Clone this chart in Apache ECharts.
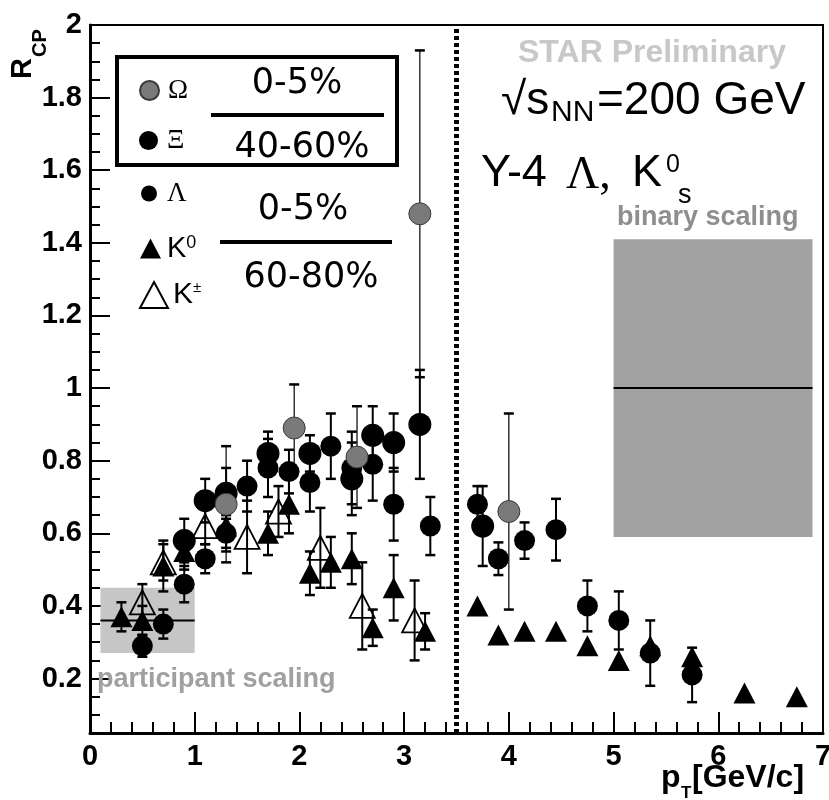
<!DOCTYPE html>
<html>
<head>
<meta charset="utf-8">
<script src="https://cdn.jsdelivr.net/npm/echarts@6/dist/echarts.min.js"></script>
<style>
  html, body { margin: 0; padding: 0; background: #fff; }
  #chart { width: 829px; height: 800px; }
</style>
</head>
<body>
<div id="chart"></div>
<script>
// ---- R_CP data (pT in GeV/c) ----
// Omega, 0-5% / 40-60%
const omegaPt  = [1.3, 1.95, 2.55, 3.15, 4.0];
const omegaR   = [0.68, 0.89, 0.81, 1.48, 0.66];
const omegaErr = [0.16, 0.12, 0.14, 0.45, 0.27];

// Xi, 0-5% / 40-60%
const xiPt  = [0.9, 1.1, 1.3, 1.7, 2.1, 2.5, 2.7, 2.9, 3.15, 3.75];
const xiR   = [0.58, 0.69, 0.71, 0.82, 0.82, 0.75, 0.87, 0.85, 0.90, 0.62];
const xiErr = [0.06, 0.06, 0.07, 0.06, 0.05, 0.10, 0.08, 0.08, 0.15, 0.11];

// Lambda, 0-5% / 60-80%
const lamPt  = [0.5, 0.7, 0.9, 1.1, 1.3, 1.5, 1.7, 1.9, 2.1, 2.3, 2.5, 2.7, 2.9, 3.25];
const lamR   = [0.29, 0.35, 0.46, 0.53, 0.60, 0.73, 0.78, 0.77, 0.74, 0.84, 0.78, 0.79, 0.68, 0.62];
const lamErr = [0.03, 0.04, 0.05, 0.04, 0.05, 0.07, 0.08, 0.06, 0.08, 0.09, 0.10, 0.10, 0.10, 0.08];

// K0, 0-5% / 60-80%
const k0Pt  = [0.3, 0.5, 0.7, 0.9, 1.3, 1.7, 1.9, 2.1, 2.3, 2.5, 2.7, 2.9, 3.2];
const k0R   = [0.37, 0.36, 0.51, 0.55, 0.62, 0.60, 0.68, 0.49, 0.52, 0.53, 0.34, 0.45, 0.33];
const k0Err = [0.04, 0.04, 0.07, 0.05, 0.06, 0.06, 0.08, 0.06, 0.07, 0.07, 0.05, 0.09, 0.05];

// charged K, 0-5% / 60-80%
const kchPt  = [0.5, 0.7, 1.1, 1.5, 1.8, 2.2, 2.6, 3.1];
const kchR   = [0.41, 0.52, 0.62, 0.59, 0.66, 0.56, 0.40, 0.36];
const kchErr = [0.05, 0.05, 0.05, 0.10, 0.07, 0.11, 0.12, 0.11];

// Y-4 run: Lambda and K0s
const y4LamPt  = [3.7, 3.9, 4.15, 4.45, 4.75, 5.05, 5.35, 5.75];
const y4LamR   = [0.68, 0.53, 0.58, 0.61, 0.40, 0.36, 0.27, 0.21];
const y4LamErr = [0.05, 0.045, 0.05, 0.085, 0.07, 0.08, 0.09, 0.075];

const y4K0Pt = [3.7, 3.9, 4.15, 4.45, 4.75, 5.05, 5.35, 5.75, 6.25, 6.75];
const y4K0R  = [0.40, 0.32, 0.33, 0.33, 0.29, 0.25, 0.29, 0.26, 0.16, 0.15];

// scaling expectations: [ptLow, ptHigh, rLow, rHigh, rCentre]
const participantBand = [0.1, 1.0, 0.27, 0.45, 0.36];
const binaryBand      = [5.0, 6.9, 0.59, 1.41, 1.0];

// pT separating the Y-2 and Y-4 data
const dividerPt = 3.5;

// axis ticks
const yMajorTicks = [0.2, 0.4, 0.6, 0.8, 1.0, 1.2, 1.4, 1.6, 1.8, 2.0];
const yMinorTicks = [0.1, 0.15, 0.25, 0.3, 0.35, 0.45, 0.5, 0.55, 0.65, 0.7, 0.75,
  0.85, 0.9, 0.95, 1.05, 1.1, 1.15, 1.25, 1.3, 1.35, 1.45, 1.5, 1.55,
  1.65, 1.7, 1.75, 1.85, 1.9, 1.95];
const yMin = 0.05, yMax = 2.0;

// ---- helpers ----
const zip2 = (xs, ys) => xs.map((x, i) => [x, ys[i]]);
const zip3 = (xs, ys, es) => xs.map((x, i) => [x, ys[i], es[i]]);

function errorBars(name, xs, ys, es, lineWidth) {
  return {
    type: 'custom',
    name: name + ' err',
    z: 3,
    silent: true,
    data: zip3(xs, ys, es),
    encode: { x: 0, y: 1 },
    renderItem: function (params, api) {
      const x = api.value(0), y = api.value(1), e = api.value(2);
      const top = api.coord([x, y + e]);
      const bot = api.coord([x, y - e]);
      const cap = 5;
      return {
        type: 'group',
        children: [
          { type: 'line', shape: { x1: top[0], y1: top[1], x2: bot[0], y2: bot[1] },
            style: { stroke: '#000', lineWidth: lineWidth } },
          { type: 'line', shape: { x1: top[0] - cap, y1: top[1], x2: top[0] + cap, y2: top[1] },
            style: { stroke: '#000', lineWidth: 2.5 } },
          { type: 'line', shape: { x1: bot[0] - cap, y1: bot[1], x2: bot[0] + cap, y2: bot[1] },
            style: { stroke: '#000', lineWidth: 2.5 } }
        ]
      };
    }
  };
}

function band(name, b, fill) {
  return {
    type: 'custom',
    name: name,
    z: 1,
    silent: true,
    data: [b],
    renderItem: function (params, api) {
      const x0 = api.value(0), x1 = api.value(1);
      const lo = api.value(2), hi = api.value(3), mid = api.value(4);
      const p0 = api.coord([x0, hi]);
      const p1 = api.coord([x1, lo]);
      const m0 = api.coord([x0, mid]);
      const m1 = api.coord([x1, mid]);
      return {
        type: 'group',
        children: [
          { type: 'rect', shape: { x: p0[0], y: p0[1], width: p1[0] - p0[0], height: p1[1] - p0[1] },
            style: { fill: fill } },
          { type: 'line', shape: { x1: m0[0], y1: m0[1], x2: m1[0], y2: m1[1] },
            style: { stroke: '#000', lineWidth: 2 } }
        ]
      };
    }
  };
}

const labelFont = { fontFamily: 'Liberation Sans', fontWeight: 'bold', color: '#000' };
const solid = { opacity: 1 };

const chart = echarts.init(document.getElementById('chart'), null, { renderer: 'canvas' });

const option = {
  backgroundColor: '#fff',
  animation: false,
  grid: {
    left: 90, right: 6, top: 25, bottom: 67,
    show: true, borderColor: '#000', borderWidth: 2,
    containLabel: false, outerBoundsMode: 'none'
  },
  xAxis: {
    type: 'value', min: 0, max: 7, interval: 1,
    axisLine: { show: true, onZero: false, lineStyle: { color: '#000', width: 3 } },
    axisTick: { show: true, inside: true, length: 21, lineStyle: { color: '#000', width: 2 } },
    minorTick: { show: true, splitNumber: 5, length: 11, lineStyle: { color: '#000', width: 2 } },
    splitLine: { show: false },
    minorSplitLine: { show: false },
    axisLabel: Object.assign({ fontSize: 29, margin: 9 }, labelFont)
  },
  yAxis: [
    {
      type: 'value', min: yMin, max: yMax,
      axisLine: { show: true, onZero: false, lineStyle: { color: '#000', width: 3 } },
      axisTick: { show: true, inside: true, length: 20, customValues: yMajorTicks,
        lineStyle: { color: '#000', width: 2 } },
      splitLine: { show: false },
      axisLabel: Object.assign({
        fontSize: 29, margin: 8, customValues: yMajorTicks,
        formatter: v => String(+(+v).toFixed(1))
      }, labelFont)
    },
    {
      type: 'value', min: yMin, max: yMax, position: 'left',
      axisLine: { show: false },
      axisTick: { show: true, inside: true, length: 10, customValues: yMinorTicks,
        lineStyle: { color: '#000', width: 2 } },
      splitLine: { show: false },
      axisLabel: { show: false }
    }
  ],
  legend: [
    { data: ['Ω'], left: 134, top: 72, itemWidth: 19, itemHeight: 19, selectedMode: false,
      textStyle: { fontFamily: 'Liberation Serif', fontSize: 27, color: '#000', padding: [0, 0, 0, 4] } },
    { data: ['Ξ'], left: 134, top: 122, itemWidth: 19, itemHeight: 19, selectedMode: false,
      textStyle: { fontFamily: 'Liberation Serif', fontSize: 27, color: '#000', padding: [0, 0, 0, 4] } },
    { data: ['Λ'], left: 136, top: 175, itemWidth: 16, itemHeight: 16, selectedMode: false,
      textStyle: { fontFamily: 'Liberation Serif', fontSize: 27, color: '#000', padding: [0, 0, 0, 5] } },
    { data: ['K⁰'], left: 135, top: 229, itemWidth: 21, itemHeight: 20, selectedMode: false,
      formatter: () => '{k|K}{s|0}',
      textStyle: { color: '#000', rich: {
        k: { fontFamily: 'Liberation Sans', fontSize: 29, color: '#000', padding: [0, 0, 0, 1] },
        s: { fontFamily: 'Liberation Sans', fontSize: 18, color: '#000', verticalAlign: 'top' }
      } } },
    { data: ['K±'], left: 134, top: 275, itemWidth: 28, itemHeight: 26, selectedMode: false,
      formatter: () => '{k|K}{s|±}',
      textStyle: { color: '#000', rich: {
        k: { fontFamily: 'Liberation Sans', fontSize: 30, color: '#000' },
        s: { fontFamily: 'Liberation Sans', fontSize: 15, color: '#000', verticalAlign: 'top' }
      } } }
  ],
  graphic: [
    // legend frame and centrality fractions
    { type: 'rect', shape: { x: 117, y: 57, width: 280, height: 108 },
      style: { fill: 'none', stroke: '#000', lineWidth: 4 }, z: 10 },
    { type: 'text', x: 297, y: 84, style: { text: '0-5%', font: '35px "DejaVu Sans"', fill: '#000',
      textAlign: 'center', textVerticalAlign: 'middle' }, z: 10 },
    { type: 'rect', shape: { x: 211, y: 113, width: 173, height: 4 }, style: { fill: '#000' }, z: 10 },
    { type: 'text', x: 302, y: 148, style: { text: '40-60%', font: '35px "DejaVu Sans"', fill: '#000',
      textAlign: 'center', textVerticalAlign: 'middle' }, z: 10 },
    { type: 'text', x: 303, y: 210, style: { text: '0-5%', font: '35px "DejaVu Sans"', fill: '#000',
      textAlign: 'center', textVerticalAlign: 'middle' }, z: 10 },
    { type: 'rect', shape: { x: 220, y: 240, width: 172, height: 4 }, style: { fill: '#000' }, z: 10 },
    { type: 'text', x: 311, y: 278, style: { text: '60-80%', font: '35px "DejaVu Sans"', fill: '#000',
      textAlign: 'center', textVerticalAlign: 'middle' }, z: 10 },

    // headline annotations
    { type: 'text', x: 518, y: 53, style: { text: 'STAR Preliminary', font: 'bold 32px "Liberation Sans"',
      fill: '#c8c8c8', textVerticalAlign: 'middle' }, z: 10 },
    { type: 'text', x: 501, y: 101, style: { text: '√s', font: '46px "Liberation Sans"', fill: '#000',
      textVerticalAlign: 'middle' }, z: 10 },
    { type: 'text', x: 551, y: 113, style: { text: 'NN', font: '30px "Liberation Sans"', fill: '#000',
      textVerticalAlign: 'middle' }, z: 10 },
    { type: 'text', x: 597, y: 101, style: { text: '=200 GeV', font: '46px "Liberation Sans"', fill: '#000',
      textVerticalAlign: 'middle' }, z: 10 },
    { type: 'text', x: 481, y: 174, style: { text: 'Y-4', font: '45px "Liberation Sans"', fill: '#000',
      textVerticalAlign: 'middle' }, z: 10 },
    { type: 'text', x: 566, y: 176, style: { text: 'Λ,', font: '46px "Liberation Serif"', fill: '#000',
      textVerticalAlign: 'middle' }, z: 10 },
    { type: 'text', x: 632, y: 174, style: { text: 'K', font: '45px "Liberation Sans"', fill: '#000',
      textVerticalAlign: 'middle' }, z: 10 },
    { type: 'text', x: 666, y: 165, style: { text: '0', font: '25px "Liberation Sans"', fill: '#000',
      textVerticalAlign: 'middle' }, z: 10 },
    { type: 'text', x: 678, y: 196, style: { text: 's', font: '27px "Liberation Sans"', fill: '#000',
      textVerticalAlign: 'middle' }, z: 10 },
    { type: 'text', x: 617, y: 218, style: { text: 'binary scaling', font: 'bold 27px "Liberation Sans"',
      fill: '#8e8e8e', textVerticalAlign: 'middle' }, z: 10 },
    { type: 'text', x: 97, y: 680, style: { text: 'participant scaling', font: 'bold 27px "Liberation Sans"',
      fill: '#a0a0a0', textVerticalAlign: 'middle' }, z: 10 },

    // axis titles
    { type: 'group', x: 23, y: 79, rotation: Math.PI / 2, z: 10, children: [
      { type: 'text', x: 0, y: 0, style: { text: 'R', font: 'bold 29px "Liberation Sans"', fill: '#000',
        textVerticalAlign: 'middle' } },
      { type: 'text', x: 22, y: 17, style: { text: 'CP', font: 'bold 20px "Liberation Sans"', fill: '#000',
        textVerticalAlign: 'middle' } }
    ] },
    { type: 'text', x: 661, y: 778, style: { text: 'p', font: 'bold 32px "Liberation Sans"', fill: '#000',
      textVerticalAlign: 'middle' }, z: 10 },
    { type: 'text', x: 681, y: 793, style: { text: 'T', font: 'bold 17px "Liberation Sans"', fill: '#000',
      textVerticalAlign: 'middle' }, z: 10 },
    { type: 'text', x: 692, y: 778, style: { text: '[GeV/c]', font: 'bold 32px "Liberation Sans"', fill: '#000',
      textVerticalAlign: 'middle' }, z: 10 }
  ],
  series: [
    band('participant scaling', participantBand, '#c6c6c6'),
    band('binary scaling', binaryBand, '#a2a2a2'),
    {
      type: 'line', name: 'divider', z: 2, silent: true, symbol: 'none',
      data: [[dividerPt, yMin], [dividerPt, yMax]],
      lineStyle: { color: '#000', width: 5, type: [4, 3], cap: 'butt' }
    },
    errorBars('Ω', omegaPt, omegaR, omegaErr, 1.2),
    errorBars('Ξ', xiPt, xiR, xiErr, 2),
    errorBars('Λ', lamPt, lamR, lamErr, 2),
    errorBars('K⁰', k0Pt, k0R, k0Err, 2),
    errorBars('K±', kchPt, kchR, kchErr, 2),
    errorBars('Λ Y-4', y4LamPt, y4LamR, y4LamErr, 2),
    {
      type: 'scatter', name: 'K⁰', z: 4, symbol: 'triangle', symbolSize: [22, 21],
      itemStyle: Object.assign({ color: '#000' }, solid), data: zip2(k0Pt, k0R)
    },
    {
      type: 'scatter', name: 'K⁰s Y-4', z: 4, symbol: 'triangle', symbolSize: [22, 21],
      itemStyle: Object.assign({ color: '#000' }, solid), data: zip2(y4K0Pt, y4K0R)
    },
    {
      type: 'scatter', name: 'K±', z: 5, symbol: 'triangle', symbolSize: [25, 24],
      itemStyle: Object.assign({ color: 'rgba(0,0,0,0)', borderColor: '#000', borderWidth: 1.8 }, solid),
      data: zip2(kchPt, kchR)
    },
    {
      type: 'scatter', name: 'Λ', z: 4, symbol: 'circle', symbolSize: 21,
      itemStyle: Object.assign({ color: '#000' }, solid), data: zip2(lamPt, lamR)
    },
    {
      type: 'scatter', name: 'Λ Y-4', z: 4, symbol: 'circle', symbolSize: 21,
      itemStyle: Object.assign({ color: '#000' }, solid), data: zip2(y4LamPt, y4LamR)
    },
    {
      type: 'scatter', name: 'Ξ', z: 4, symbol: 'circle', symbolSize: 23,
      itemStyle: Object.assign({ color: '#000' }, solid), data: zip2(xiPt, xiR)
    },
    {
      type: 'scatter', name: 'Ω', z: 6, symbol: 'circle', symbolSize: 22,
      itemStyle: Object.assign({ color: '#7a7a7a', borderColor: '#3a3a3a', borderWidth: 1 }, solid),
      data: zip2(omegaPt, omegaR)
    }
  ]
};

chart.setOption(option);
</script>
</body>
</html>
